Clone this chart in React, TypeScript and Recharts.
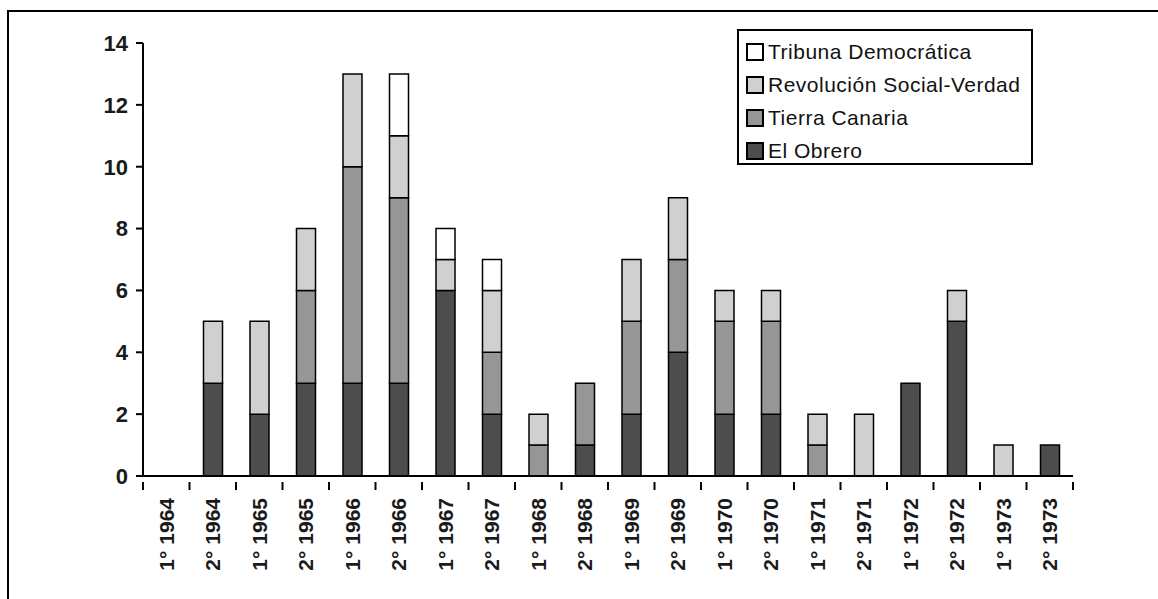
import React from 'react';
import { BarChart, Bar, XAxis, YAxis } from 'recharts';

const categories = ['1° 1964', '2° 1964', '1° 1965', '2° 1965', '1° 1966', '2° 1966', '1° 1967', '2° 1967', '1° 1968', '2° 1968', '1° 1969', '2° 1969', '1° 1970', '2° 1970', '1° 1971', '2° 1971', '1° 1972', '2° 1972', '1° 1973', '2° 1973'];
const elObrero = [0, 3, 2, 3, 3, 3, 6, 2, 0, 1, 2, 4, 2, 2, 0, 0, 3, 5, 0, 1];
const tierraCanaria = [0, 0, 0, 3, 7, 6, 0, 2, 1, 2, 3, 3, 3, 3, 1, 0, 0, 0, 0, 0];
const revolucionSocialVerdad = [0, 2, 3, 2, 3, 2, 1, 2, 1, 0, 2, 2, 1, 1, 1, 2, 0, 1, 1, 0];
const tribunaDemocratica = [0, 0, 0, 0, 0, 2, 1, 1, 0, 0, 0, 0, 0, 0, 0, 0, 0, 0, 0, 0];
const yTicks = [0, 2, 4, 6, 8, 10, 12, 14];

const series = [
  { key: 'obrero', name: 'El Obrero', color: '#4d4d4d' },
  { key: 'tierra', name: 'Tierra Canaria', color: '#969696' },
  { key: 'revolucion', name: 'Revolución Social-Verdad', color: '#d0d0d0' },
  { key: 'tribuna', name: 'Tribuna Democrática', color: '#ffffff' },
];

const data = categories.map((c, i) => ({
  cat: c,
  obrero: elObrero[i],
  tierra: tierraCanaria[i],
  revolucion: revolucionSocialVerdad[i],
  tribuna: tribunaDemocratica[i],
}));

const FONT = '"Liberation Sans", Arial, sans-serif';

const XTick = (props: any) => {
  const { x, y, payload, index, width, visibleTicksCount } = props;
  const count = visibleTicksCount || categories.length;
  const band = (width || 930) / count;
  const y0 = y - 2;
  const ty = y + 14;
  return (
    <g>
      <line x1={x - band / 2} x2={x - band / 2} y1={y0} y2={y0 + 8} stroke="#000" strokeWidth={2} />
      {index === count - 1 && (
        <line x1={x + band / 2} x2={x + band / 2} y1={y0} y2={y0 + 8} stroke="#000" strokeWidth={2} />
      )}
      <text
        x={x}
        y={ty}
        transform={`rotate(-90 ${x} ${ty})`}
        textAnchor="end"
        dy="0.36em"
        fontFamily={FONT}
        fontWeight="bold"
        fontSize={21}
        fill="#1a1a1a"
      >
        {payload.value}
      </text>
    </g>
  );
};

export default function App() {
  return (
    <div style={{ position: 'absolute', left: 0, top: 0, width: 1158, height: 599, background: '#fff', overflow: 'hidden' }}>
      <div style={{ position: 'absolute', left: 7, top: 10, width: 1151, height: 589, borderTop: '2px solid #000', borderLeft: '2px solid #000' }} />
      <div style={{ position: 'absolute', left: 0, top: 0 }}>
        <BarChart width={1158} height={599} data={data} margin={{ top: 43, right: 85, bottom: 0, left: 0 }} barSize={19}>
          <XAxis
            dataKey="cat"
            height={123}
            interval={0}
            tickLine={false}
            axisLine={{ stroke: '#000', strokeWidth: 2 }}
            tick={<XTick />}
          />
          <YAxis
            width={143}
            domain={[0, 14]}
            ticks={yTicks}
            tickSize={7}
            tickMargin={8}
            axisLine={{ stroke: '#000', strokeWidth: 2 }}
            tickLine={{ stroke: '#000', strokeWidth: 2 }}
            tick={{ fill: '#1a1a1a', fontFamily: FONT, fontWeight: 'bold', fontSize: 22 }}
          />
          {series.map((s) => (
            <Bar key={s.key} dataKey={s.key} name={s.name} stackId="a" fill={s.color} stroke="#000" strokeWidth={1.5} isAnimationActive={false} />
          ))}
        </BarChart>
      </div>
      <div
        style={{
          position: 'absolute',
          left: 737,
          top: 29,
          width: 292,
          height: 128,
          border: '2px solid #000',
          background: '#fff',
          fontFamily: FONT,
          fontSize: 21,
          letterSpacing: 0.5,
          color: '#111',
          paddingTop: 4,
          boxSizing: 'content-box',
        }}
      >
        {series.slice().reverse().map((s) => (
          <div key={s.key} style={{ display: 'flex', alignItems: 'center', height: 33, paddingLeft: 7 }}>
            <span style={{ display: 'inline-block', width: 14, height: 14, border: '2px solid #000', background: s.color, marginRight: 4 }} />
            <span>{s.name}</span>
          </div>
        ))}
      </div>
    </div>
  );
}
